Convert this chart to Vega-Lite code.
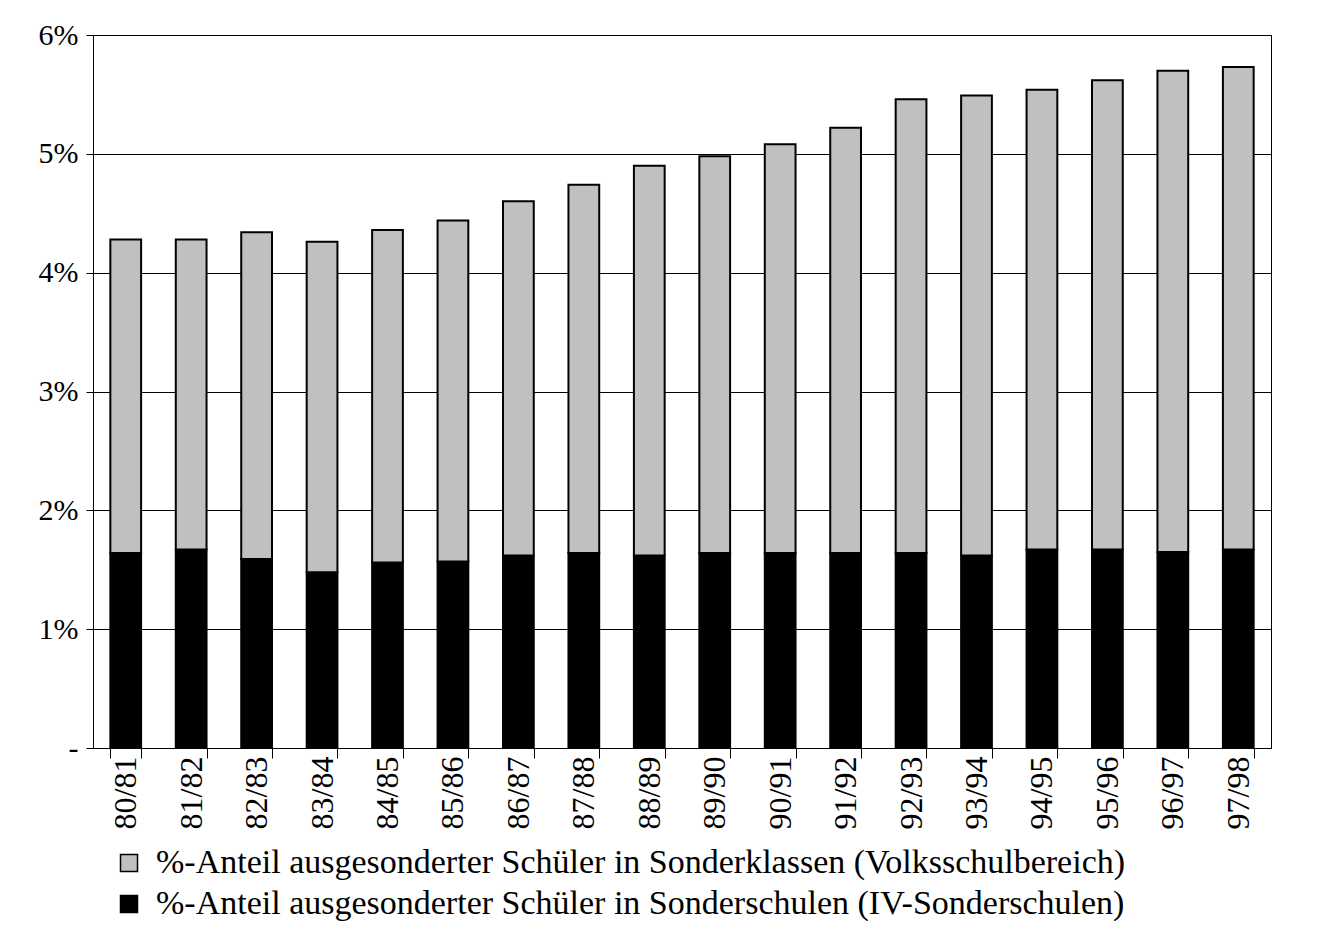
{
  "$schema": "https://vega.github.io/schema/vega-lite/v6.json",
  "width": 1178,
  "height": 713,
  "autosize": {"type": "none"},
  "padding": {"left": 93, "top": 35, "right": 62, "bottom": 178},
  "background": "white",
  "config": {"view": {"stroke": "black", "strokeWidth": 1}, "font": "Liberation Serif"},
  "data": {
    "values": [
      {"year": "80/81", "series": "%-Anteil ausgesonderter Schüler in Sonderschulen (IV-Sonderschulen)", "value": 1.64},
      {"year": "80/81", "series": "%-Anteil ausgesonderter Schüler in Sonderklassen (Volksschulbereich)", "value": 2.64},
      {"year": "81/82", "series": "%-Anteil ausgesonderter Schüler in Sonderschulen (IV-Sonderschulen)", "value": 1.67},
      {"year": "81/82", "series": "%-Anteil ausgesonderter Schüler in Sonderklassen (Volksschulbereich)", "value": 2.61},
      {"year": "82/83", "series": "%-Anteil ausgesonderter Schüler in Sonderschulen (IV-Sonderschulen)", "value": 1.59},
      {"year": "82/83", "series": "%-Anteil ausgesonderter Schüler in Sonderklassen (Volksschulbereich)", "value": 2.75},
      {"year": "83/84", "series": "%-Anteil ausgesonderter Schüler in Sonderschulen (IV-Sonderschulen)", "value": 1.48},
      {"year": "83/84", "series": "%-Anteil ausgesonderter Schüler in Sonderklassen (Volksschulbereich)", "value": 2.78},
      {"year": "84/85", "series": "%-Anteil ausgesonderter Schüler in Sonderschulen (IV-Sonderschulen)", "value": 1.56},
      {"year": "84/85", "series": "%-Anteil ausgesonderter Schüler in Sonderklassen (Volksschulbereich)", "value": 2.80},
      {"year": "85/86", "series": "%-Anteil ausgesonderter Schüler in Sonderschulen (IV-Sonderschulen)", "value": 1.57},
      {"year": "85/86", "series": "%-Anteil ausgesonderter Schüler in Sonderklassen (Volksschulbereich)", "value": 2.87},
      {"year": "86/87", "series": "%-Anteil ausgesonderter Schüler in Sonderschulen (IV-Sonderschulen)", "value": 1.62},
      {"year": "86/87", "series": "%-Anteil ausgesonderter Schüler in Sonderklassen (Volksschulbereich)", "value": 2.98},
      {"year": "87/88", "series": "%-Anteil ausgesonderter Schüler in Sonderschulen (IV-Sonderschulen)", "value": 1.64},
      {"year": "87/88", "series": "%-Anteil ausgesonderter Schüler in Sonderklassen (Volksschulbereich)", "value": 3.10},
      {"year": "88/89", "series": "%-Anteil ausgesonderter Schüler in Sonderschulen (IV-Sonderschulen)", "value": 1.62},
      {"year": "88/89", "series": "%-Anteil ausgesonderter Schüler in Sonderklassen (Volksschulbereich)", "value": 3.28},
      {"year": "89/90", "series": "%-Anteil ausgesonderter Schüler in Sonderschulen (IV-Sonderschulen)", "value": 1.64},
      {"year": "89/90", "series": "%-Anteil ausgesonderter Schüler in Sonderklassen (Volksschulbereich)", "value": 3.34},
      {"year": "90/91", "series": "%-Anteil ausgesonderter Schüler in Sonderschulen (IV-Sonderschulen)", "value": 1.64},
      {"year": "90/91", "series": "%-Anteil ausgesonderter Schüler in Sonderklassen (Volksschulbereich)", "value": 3.44},
      {"year": "91/92", "series": "%-Anteil ausgesonderter Schüler in Sonderschulen (IV-Sonderschulen)", "value": 1.64},
      {"year": "91/92", "series": "%-Anteil ausgesonderter Schüler in Sonderklassen (Volksschulbereich)", "value": 3.58},
      {"year": "92/93", "series": "%-Anteil ausgesonderter Schüler in Sonderschulen (IV-Sonderschulen)", "value": 1.64},
      {"year": "92/93", "series": "%-Anteil ausgesonderter Schüler in Sonderklassen (Volksschulbereich)", "value": 3.82},
      {"year": "93/94", "series": "%-Anteil ausgesonderter Schüler in Sonderschulen (IV-Sonderschulen)", "value": 1.62},
      {"year": "93/94", "series": "%-Anteil ausgesonderter Schüler in Sonderklassen (Volksschulbereich)", "value": 3.87},
      {"year": "94/95", "series": "%-Anteil ausgesonderter Schüler in Sonderschulen (IV-Sonderschulen)", "value": 1.67},
      {"year": "94/95", "series": "%-Anteil ausgesonderter Schüler in Sonderklassen (Volksschulbereich)", "value": 3.87},
      {"year": "95/96", "series": "%-Anteil ausgesonderter Schüler in Sonderschulen (IV-Sonderschulen)", "value": 1.67},
      {"year": "95/96", "series": "%-Anteil ausgesonderter Schüler in Sonderklassen (Volksschulbereich)", "value": 3.95},
      {"year": "96/97", "series": "%-Anteil ausgesonderter Schüler in Sonderschulen (IV-Sonderschulen)", "value": 1.65},
      {"year": "96/97", "series": "%-Anteil ausgesonderter Schüler in Sonderklassen (Volksschulbereich)", "value": 4.05},
      {"year": "97/98", "series": "%-Anteil ausgesonderter Schüler in Sonderschulen (IV-Sonderschulen)", "value": 1.67},
      {"year": "97/98", "series": "%-Anteil ausgesonderter Schüler in Sonderklassen (Volksschulbereich)", "value": 4.06}
    ]
  },
  "mark": {"type": "bar", "stroke": "black", "strokeWidth": 2},
  "encoding": {
    "x": {
      "field": "year",
      "type": "nominal",
      "sort": null,
      "scale": {"paddingInner": 0.53, "paddingOuter": 0.265},
      "axis": {
        "title": null,
        "labelAngle": 270,
        "labelAlign": "right",
        "labelBaseline": "middle",
        "labelFontSize": 32,
        "labelColor": "black",
        "tickBand": "extent",
        "tickSize": 10,
        "tickColor": "black",
        "domainColor": "black",
        "labelPadding": -2
      }
    },
    "y": {
      "field": "value",
      "type": "quantitative",
      "stack": "zero",
      "scale": {"domain": [0, 6], "nice": false},
      "axis": {
        "title": null,
        "values": [0, 1, 2, 3, 4, 5, 6],
        "labelExpr": "datum.value == 0 ? '-\u00a0\u00a0' : datum.value + '%'",
        "labelFontSize": 30,
        "labelColor": "black",
        "tickColor": "black",
        "tickSize": 7,
        "labelPadding": 8,
        "domainColor": "black",
        "grid": true,
        "gridColor": "black",
        "gridOpacity": 1
      }
    },
    "color": {
      "field": "series",
      "type": "nominal",
      "scale": {
        "domain": [
          "%-Anteil ausgesonderter Schüler in Sonderklassen (Volksschulbereich)",
          "%-Anteil ausgesonderter Schüler in Sonderschulen (IV-Sonderschulen)"
        ],
        "range": ["#c0c0c0", "#000000"]
      },
      "legend": {
        "orient": "none",
        "legendX": 19,
        "legendY": 811,
        "title": null,
        "direction": "vertical",
        "symbolType": "square",
        "symbolSize": 289,
        "symbolStrokeColor": "black",
        "symbolStrokeWidth": 1.5,
        "labelFontSize": 34,
        "labelColor": "black",
        "labelOffset": 10,
        "rowPadding": 7,
        "padding": 0,
        "labelLimit": 2000
      }
    },
    "order": {"field": "series", "sort": "descending"}
  }
}
